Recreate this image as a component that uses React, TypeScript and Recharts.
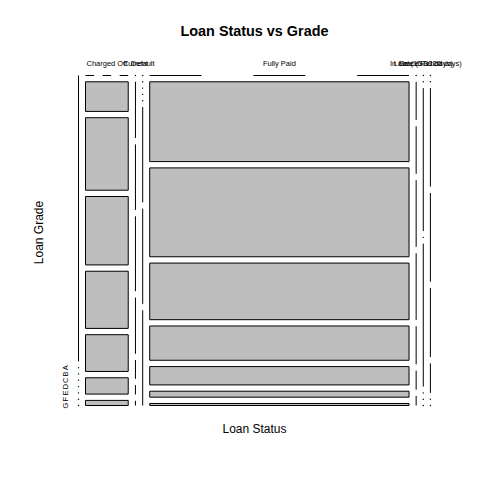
// Mosaic plot: loan status (columns) vs grade (rows)

import {
  ComposedChart, XAxis, YAxis, ReferenceArea, ReferenceLine, ReferenceDot,
} from 'recharts'

const STATUSES = [
  '', 'Charged Off', 'Current', 'Default', 'Fully Paid',
  'In Grace Period', 'Late (16-30 days)', 'Late (31-120 days)',
]
const GRADES = ['', 'A', 'B', 'C', 'D', 'E', 'F', 'G']

// counts per status, one value per grade ('' , A..G)
const BLANK       = [1, 0, 0, 0, 0, 0, 0, 0]
const CHARGED_OFF = [0, 580, 1420, 1340, 1120, 720, 320, 100]
const CURRENT     = [0, 12, 14, 16, 12, 4, 2, 1]
const DEFAULT     = [0, 0, 0, 0, 0, 1, 1, 1]
const FULLY_PAID  = [0, 9490, 10570, 6730, 4080, 2180, 710, 240]
const GRACE       = [0, 4, 5, 7, 7, 4, 2, 1]
const LATE_16_30  = [0, 0, 1, 0, 1, 0, 0, 0]
const LATE_31_120 = [0, 0, 10, 9, 7, 3, 0, 0]

const COUNTS = [BLANK, CHARGED_OFF, CURRENT, DEFAULT, FULLY_PAID, GRACE, LATE_16_30, LATE_31_120]

const W = 352, H = 330      // plot extent in data units (1 unit ≈ 1 px)
const GX = 7, GY = 6.3      // spacing between tiles
const FILL = '#bebebe'
const FONT = '"Liberation Sans", Arial, Helvetica, sans-serif'

interface Cell { x0: number; x1: number; y0: number; y1: number; n: number; col: number; row: number }

function layout() {
  const totals = COUNTS.map(c => c.reduce((a, b) => a + b, 0))
  const grand = totals.reduce((a, b) => a + b, 0)
  const availW = W - GX * (COUNTS.length - 1)
  const availH = H - GY * (GRADES.length - 1)
  const cells: Cell[] = []
  const centers: number[] = []
  let x = 0
  COUNTS.forEach((col, ci) => {
    const w = totals[ci]! / grand * availW
    centers.push(x + w / 2)
    let y = 0
    col.forEach((n, ri) => {
      const h = totals[ci] ? n / totals[ci]! * availH : 0
      cells.push({ x0: x, x1: x + w, y0: y, y1: y + h, n, col: ci, row: ri })
      y += h + GY
    })
    x += w + GX
  })
  return { cells, centers }
}

const txt = (value: string, size: number, opts: { bold?: boolean; rotate?: boolean } = {}) =>
  (p: any) => (
    <text x={p.cx} y={p.cy} textAnchor="middle" dominantBaseline="central"
      fontFamily={FONT} fontSize={size} fontWeight={opts.bold ? 700 : 400} fill="#000"
      transform={opts.rotate ? `rotate(-90 ${p.cx} ${p.cy})` : undefined}>
      {value}
    </text>
  )

export default function App() {
  const { cells, centers } = layout()
  const rowCells = cells.filter(c => c.col === 0)

  return (
    <div style={{ position: 'absolute', left: 0, top: 0, width: 480, height: 480, background: '#fff' }}>
      <ComposedChart width={480} height={480} data={[]}
        margin={{ top: 75.5, right: 49.5, bottom: 74.5, left: 78.5 }}>
        <XAxis type="number" dataKey="x" domain={[0, W]} hide allowDataOverflow />
        <YAxis type="number" dataKey="y" domain={[0, H]} reversed hide allowDataOverflow />

        {cells.map((c, i) => {
          const w = c.x1 - c.x0
          const key = `c${i}`
          if (c.n > 0 && w >= 1)
            return <ReferenceArea key={key} x1={c.x0} x2={c.x1} y1={c.y0} y2={c.y1}
              fill={FILL} fillOpacity={1} stroke="#000" strokeWidth={1} ifOverflow="visible" />
          if (c.n > 0)
            return <ReferenceLine key={key} segment={[{ x: c.x0 + w / 2, y: c.y0 }, { x: c.x0 + w / 2, y: c.y1 }]}
              stroke="#000" strokeWidth={1} ifOverflow="visible" />
          if (w >= 1)
            return <ReferenceLine key={key} segment={[{ x: c.x0, y: c.y0 }, { x: c.x1, y: c.y0 }]}
              stroke="#000" strokeWidth={1} strokeDasharray={`${w / 5} ${w / 5}`} ifOverflow="visible" />
          return <ReferenceDot key={key} x={c.x0 + w / 2} y={c.y0} r={0.7}
            fill="#000" stroke="none" ifOverflow="visible" />
        })}

        {STATUSES.map((s, i) => s && (
          <ReferenceDot key={`s${i}`} x={centers[i]} y={-12} r={0} ifOverflow="visible"
            shape={txt(s, 7.5)} />
        ))}
        {rowCells.map((c, i) => GRADES[i] && (
          <ReferenceDot key={`g${i}`} x={-13} y={(c.y0 + c.y1) / 2} r={0} ifOverflow="visible"
            shape={txt(GRADES[i]!, 7.5, { rotate: true })} />
        ))}

        <ReferenceDot x={W / 2} y={-45} r={0} ifOverflow="visible"
          shape={txt('Loan Status vs Grade', 14.4, { bold: true })} />
        <ReferenceDot x={W / 2} y={353} r={0} ifOverflow="visible"
          shape={txt('Loan Status', 12)} />
        <ReferenceDot x={-40} y={157} r={0} ifOverflow="visible"
          shape={txt('Loan Grade', 12, { rotate: true })} />
      </ComposedChart>
    </div>
  )
}
